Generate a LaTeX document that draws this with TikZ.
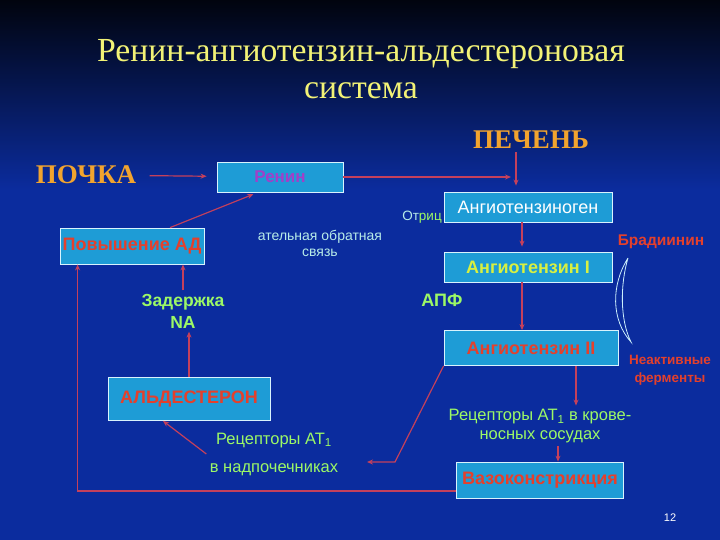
\documentclass[tikz,border=0pt]{standalone}
\usepackage{fontspec}
\setmainfont{Liberation Serif}
\setsansfont{Liberation Sans}
\usetikzlibrary{arrows, arrows.meta}
\definecolor{bgtop}{HTML}{01040E}
\definecolor{bgblue}{HTML}{0B2C9E}
\definecolor{boxcyan}{HTML}{1E9CD6}
\definecolor{arrowred}{HTML}{C4405C}
\definecolor{titleyellow}{HTML}{F2F276}
\definecolor{organorange}{HTML}{F2A42E}
\definecolor{labelgreen}{HTML}{9CF866}
\definecolor{textred}{HTML}{E4402C}
\definecolor{reninpurple}{HTML}{A040C8}
\definecolor{angyellow}{HTML}{D8F040}
\definecolor{paletext}{HTML}{B8ECE8}

\begin{document}
\begin{tikzpicture}[x=1pt, y=-1pt,
    box/.style={draw=white!85!cyan, line width=0.8pt, fill=boxcyan, font=\sffamily\bfseries\fontsize{18}{20}\selectfont, text=textred, inner sep=0pt},
    organ/.style={font=\bfseries\fontsize{27}{30}\selectfont, text=organorange},
    arr/.style={draw=arrowred, line width=1.2pt, -{Stealth[length=6pt, width=5pt]}},
    greentext/.style={font=\sffamily\fontsize{16.5}{19}\selectfont, text=labelgreen, align=center}]
        % Background
        \useasboundingbox (0,0) rectangle (720,540);
        \fill[bgblue] (0,0) rectangle (720,540);
        \shade[top color=bgtop, bottom color=bgblue] (0,0) rectangle (720,190);

        % Nodes
        \node[font=\fontsize{33.7}{37}\selectfont, text=titleyellow, align=center] (title) at (361,69) {Ренин-ангиотензин-альдестероновая\\система};
        \node[organ] (kidney) at (86,175) {ПОЧКА};
        \node[organ] (liver) at (531,140) {ПЕЧЕНЬ};
        \node[box, minimum width=126pt, minimum height=30pt, text=reninpurple, font=\sffamily\bfseries\fontsize{17}{19}\selectfont] (renin) at (280,177) {Ренин};
        \node[box, minimum width=168pt, minimum height=30pt, text=white, font=\sffamily\fontsize{18}{20}\selectfont] (ang0) at (528,207) {Ангиотензиноген};
        \node[box, minimum width=168pt, minimum height=30pt, text=angyellow] (ang1) at (528,267) {Ангиотензин I};
        \node[box, minimum width=174pt, minimum height=35pt] (ang2) at (531,348) {Ангиотензин II};
        \node[box, minimum width=167pt, minimum height=36pt] (vaso) at (540,480) {Вазоконстрикция};
        \node[box, minimum width=144pt, minimum height=36pt] (pov) at (132,246) {Повышение АД};
        \node[box, minimum width=162pt, minimum height=43pt] (aldo) at (189,399) {АЛЬДЕСТЕРОН};
        \node[greentext, font=\sffamily\bfseries\fontsize{17.5}{22}\selectfont] (zad) at (183,311) {Задержка\\NA};
        \node[greentext, font=\sffamily\fontsize{16.5}{28}\selectfont] (recAdr) at (274,454) {Рецепторы AT\textsubscript{1}\\в надпочечниках};
        \node[greentext] (recVes) at (540,426) {Рецепторы AT\textsubscript{1} в крове-\\носных сосудах};
        \node[font=\sffamily\bfseries\fontsize{18}{20}\selectfont, text=labelgreen] (apf) at (442,300) {АПФ};
        \node[font=\sffamily\bfseries\fontsize{15.5}{18}\selectfont, text=textred] (brad) at (661,242) {Брадиинин};
        \node[font=\sffamily\bfseries\fontsize{13.5}{18}\selectfont, text=textred, align=center] (inact) at (670,370) {Неактивные\\ферменты};
        \node[font=\sffamily\fontsize{14}{16}\selectfont, text=paletext, align=center] (feedback) at (320,243) {ательная обратная\\связь};
        \node[font=\sffamily\fontsize{13.5}{16}\selectfont, inner sep=1pt] (neg) at (422,217) {\textcolor{paletext}{От}\textcolor{labelgreen}{риц}};
        \node[font=\sffamily\fontsize{11}{14}\selectfont, text=white] (page) at (670,518) {12};
        \coordinate (join) at (511,177);
        \coordinate (bend) at (395,462);
        \coordinate (adrend) at (367,462);

        % Arrows
        \draw[arr, shorten <=10pt, shorten >=10pt] (kidney) -- (renin);
        \draw[arr] (renin.east) -- (join);
        \draw[arr, shorten >=6pt] ([xshift=-15pt]liver.south) -- ([xshift=-15pt]liver.south |- ang0.north);
        \draw[arr, shorten >=5pt] ([xshift=-6pt]ang0.south) -- ([xshift=-6pt]ang0.south |- ang1.north);
        \draw[arr] ([xshift=-6pt]ang1.south) -- ([xshift=-6pt]ang1.south |- ang2.north);
        \draw[arr] ([xshift=45pt]ang2.south) -- ([xshift=45pt]ang2.south |- recVes.north);
        \draw[arr] ([xshift=18pt]recVes.south) -- ([xshift=18pt]vaso.north);
        \draw[arr] (ang2.south west) -- (bend) -- (adrend);
        \draw[arr] ([yshift=-11pt]vaso.west) -| ([xshift=18pt]pov.south west);
        \draw[arr, shorten >=5pt] ([xshift=38pt]pov.north) -- ([xshift=-22pt]renin.south);
        \draw[arr] (zad.north) -- (zad.north |- pov.south);
        \draw[arr] (aldo.north) -- (aldo.north |- zad.south);
        \draw[arr] (recAdr.west) -- ([xshift=-26pt]aldo.south);

        % Bracket
        \draw[white!80!cyan, line width=0.8pt] (628,258) .. controls (611,285) and (611,320) .. (631,342) .. controls (620,320) and (620,285) .. (628,258);
    \end{tikzpicture}
\end{document}
